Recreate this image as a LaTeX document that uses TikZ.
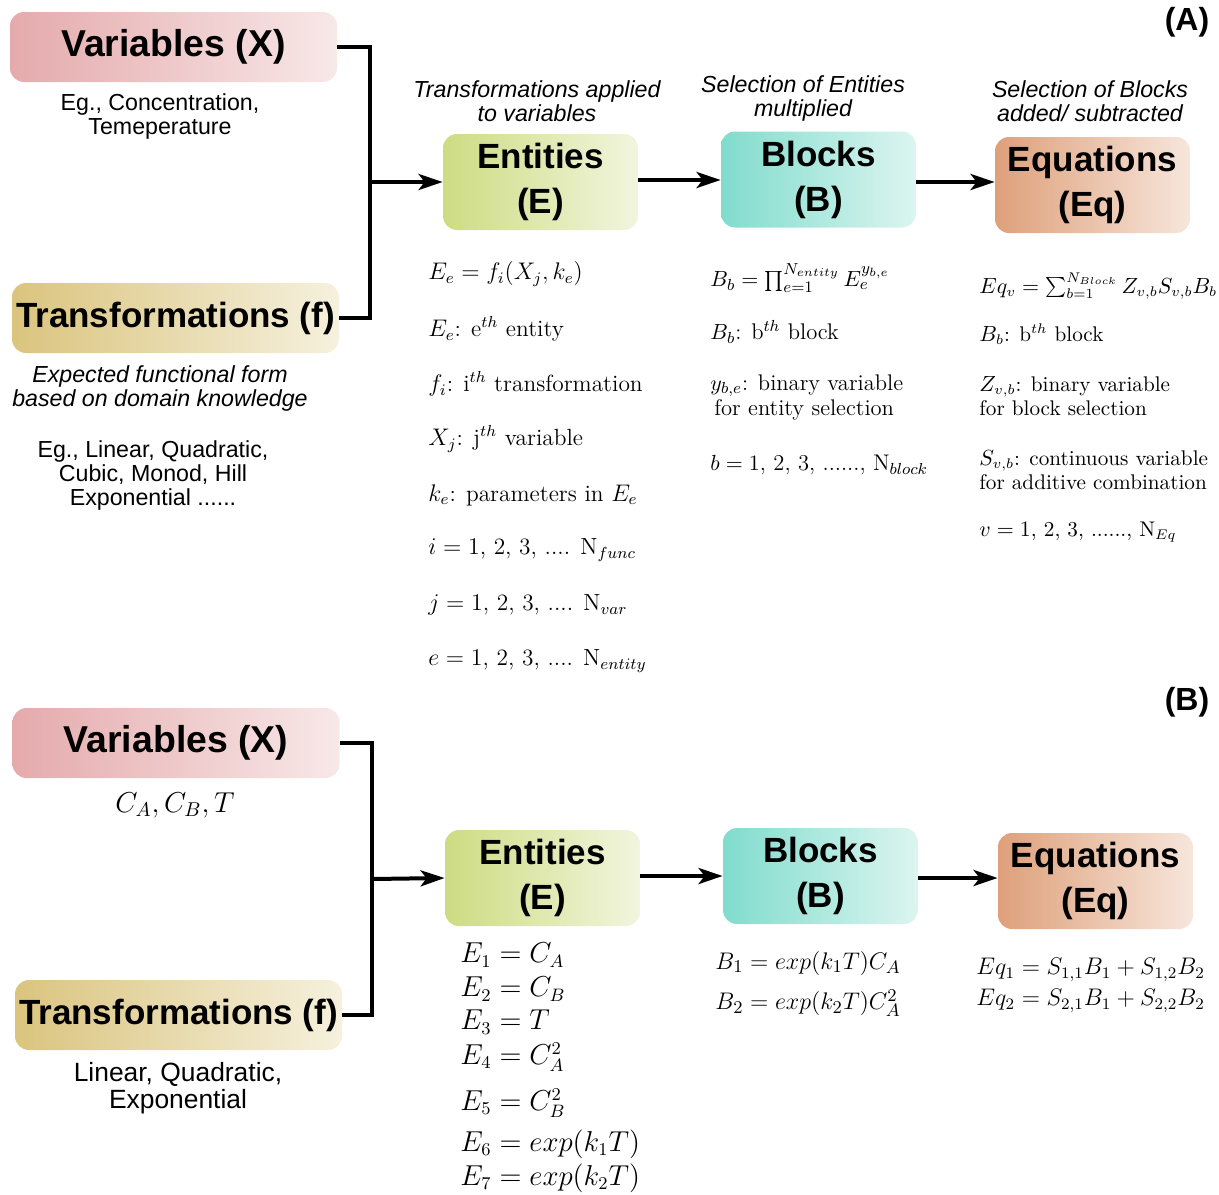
\documentclass[tikz,border=0pt]{standalone}
\usepackage{fontspec}
\setsansfont{Liberation Sans}
\usetikzlibrary{arrows.meta}

\definecolor{varL}{RGB}{229,170,172}
\definecolor{varR}{RGB}{248,232,232}
\definecolor{trfL}{RGB}{218,196,126}
\definecolor{trfR}{RGB}{246,241,222}
\definecolor{entL}{RGB}{205,220,130}
\definecolor{entR}{RGB}{242,245,222}
\definecolor{blkL}{RGB}{128,220,205}
\definecolor{blkR}{RGB}{220,245,240}
\definecolor{eqnL}{RGB}{222,160,122}
\definecolor{eqnR}{RGB}{247,230,220}

\tikzset{
  box/.style={rounded corners=7pt, minimum width=97.5pt, minimum height=48pt,
    align=center, inner sep=0pt,
    font=\sffamily\bfseries\fontsize{17.5}{22.5}\selectfont},
  inbox/.style={box, minimum width=163.5pt, minimum height=35pt},
  grad/.style 2 args={left color=#1, right color=#2},
  conn/.style={line width=2pt},
  arr/.style={conn, -{Stealth[length=12pt,width=8pt,inset=3pt]}},
  note/.style={align=center, inner sep=0pt,
    font=\sffamily\fontsize{11.6}{12}\selectfont},
  hint/.style={note, font=\sffamily\itshape\fontsize{11.6}{12}\selectfont},
  eq/.style={anchor=west, align=left, inner sep=0pt,
    font=\fontsize{11.7}{12.5}\selectfont},
  eqbig/.style={anchor=west, inner sep=0pt, font=\fontsize{13.3}{16}\selectfont},
  tag/.style={inner sep=0pt, font=\sffamily\bfseries\fontsize{16}{18}\selectfont}
}

\begin{document}
\begin{tikzpicture}[x=0.5pt,y=-0.5pt]
  \useasboundingbox (0,0) rectangle (1219,1194);

  % ---------- (A) general framework ----------
  \node[tag] (tagA) at (1187,22) {(A)};

  \node[inbox, grad={varL}{varR}, font=\sffamily\bfseries\fontsize{18.7}{22}\selectfont]
    (varA) at (173.5,47) {Variables (X)};
  \node[note] (varAtxt) at (160,116) {Eg., Concentration,\\Temeperature};

  \node[inbox, grad={trfL}{trfR}] (trfA) at (175.5,318) {Transformations (f)};
  \node[hint] (trfAhint) at (160,388) {Expected functional form\\based on domain knowledge};
  \node[note] (trfAtxt) at (153,475) {Eg., Linear, Quadratic,\\Cubic, Monod, Hill\\Exponential ......};

  \node[box, grad={entL}{entR}] (entA) at (540.5,182) {Entities\\(E)};
  \node[box, grad={blkL}{blkR}] (blkA) at (818.5,179.5) {Blocks\\(B)};
  \node[box, grad={eqnL}{eqnR}] (eqnA) at (1092.5,185) {Equations\\(Eq)};

  \node[hint] (entAhint) at (537,101) {Transformations applied\\to variables};
  \node[hint] (blkAhint) at (803,99) {Selection of Entities\\multiplied};
  \node[hint] (eqnAhint) at (1090,101) {Selection of Blocks\\added/ subtracted};

  % connectors
  \coordinate (jA) at (370,182);
  \draw[conn] (varA.east) -| (jA) |- (trfA.east);
  \draw[arr] (jA) -- (entA.west);
  \draw[arr] (entA.east |- 180,180) -- (blkA.west |- 180,180);
  \draw[arr] (blkA.east |- 182,182) -- (eqnA.west |- 182,182);

  % entity definitions
  \node[eq] (entAdef1) at (428,274) {$E_e = f_i(X_j, k_e)$};
  \node[eq] (entAdef2) at (428,329) {$E_e$: e$^{th}$ entity};
  \node[eq] (entAdef3) at (428,384) {$f_i$: i$^{th}$ transformation};
  \node[eq] (entAdef4) at (428,439) {$X_j$: j$^{th}$ variable};
  \node[eq] (entAdef5) at (428,495) {$k_e$: parameters in $E_e$};
  \node[eq] (entAdef6) at (428,550) {$i = 1$, 2, 3, .... N$_{func}$};
  \node[eq] (entAdef7) at (428,605) {$j = 1$, 2, 3, .... N$_{var}$};
  \node[eq] (entAdef8) at (428,661) {$e = 1$, 2, 3, .... N$_{entity}$};

  % block definitions
  \node[eq, font=\fontsize{11.3}{12.5}\selectfont] (blkAdef1) at (710,278) {$B_b = \prod_{e=1}^{N_{entity}} E_e^{y_{b,e}}$};
  \node[eq, font=\fontsize{11.3}{12.5}\selectfont] (blkAdef2) at (710,332) {$B_b$: b$^{th}$ block};
  \node[eq, font=\fontsize{11.3}{12.5}\selectfont] (blkAdef3) at (710,397) {$y_{b,e}$: binary variable\\\hspace*{2pt}for entity selection};
  \node[eq, font=\fontsize{11.3}{12.5}\selectfont] (blkAdef4) at (710,465) {$b = 1$, 2, 3, ......, N$_{block}$};

  % equation definitions
  \node[eq, font=\fontsize{10.6}{12}\selectfont] (eqnAdef1) at (979,286) {$Eq_v = \sum_{b=1}^{N_{Block}} Z_{v,b}S_{v,b}B_b$};
  \node[eq, font=\fontsize{10.6}{12}\selectfont] (eqnAdef2) at (979,334) {$B_b$: b$^{th}$ block};
  \node[eq, font=\fontsize{10.6}{12}\selectfont] (eqnAdef3) at (979,396) {$Z_{v,b}$: binary variable\\for block selection};
  \node[eq, font=\fontsize{10.6}{12}\selectfont] (eqnAdef4) at (979,470) {$S_{v,b}$: continuous variable\\for additive combination};
  \node[eq, font=\fontsize{10.6}{12}\selectfont] (eqnAdef5) at (979,532) {$v = 1$, 2, 3, ......, N$_{Eq}$};

  % ---------- (B) worked example ----------
  \node[tag] (tagB) at (1187,702) {(B)};

  \node[inbox, grad={varL}{varR}, font=\sffamily\bfseries\fontsize{18.7}{22}\selectfont]
    (varB) at (176,743) {Variables (X)};
  \node[inner sep=0pt, font=\fontsize{14.5}{18}\selectfont] (varBtxt) at (175,805) {$C_A, C_B, T$};

  \node[inbox, grad={trfL}{trfR}] (trfB) at (178.5,1015) {Transformations (f)};
  \node[note, font=\sffamily\fontsize{13.2}{13.5}\selectfont] (trfBtxt) at (178,1088) {Linear, Quadratic,\\Exponential};

  \node[box, grad={entL}{entR}] (entB) at (542.5,878) {Entities\\(E)};
  \node[box, grad={blkL}{blkR}] (blkB) at (820.5,876) {Blocks\\(B)};
  \node[box, grad={eqnL}{eqnR}] (eqnB) at (1095.5,881) {Equations\\(Eq)};

  \coordinate (jB) at (372,879);
  \draw[conn] (varB.east) -| (jB) |- (trfB.east);
  \draw[arr] (jB) -- (entB.west);
  \draw[arr] (entB.east |- 876,876) -- (blkB.west |- 876,876);
  \draw[arr] (blkB.east |- 878,878) -- (eqnB.west |- 878,878);

  % entities of the example
  \node[eqbig] (entB1) at (460,955) {$E_1 = C_A$};
  \node[eqbig] (entB2) at (460,989) {$E_2 = C_B$};
  \node[eqbig] (entB3) at (460,1022) {$E_3 = T$};
  \node[eqbig] (entB4) at (460,1057) {$E_4 = C_A^2$};
  \node[eqbig] (entB5) at (460,1103) {$E_5 = C_B^2$};
  \node[eqbig] (entB6) at (460,1144) {$E_6 = exp(k_1T)$};
  \node[eqbig] (entB7) at (460,1178) {$E_7 = exp(k_2T)$};

  % blocks and equations of the example
  \node[eqbig, font=\fontsize{12.2}{14}\selectfont] (blkB1) at (715,963) {$B_1 = exp(k_1T)C_A$};
  \node[eqbig, font=\fontsize{12.2}{14}\selectfont] (blkB2) at (715,1003) {$B_2 = exp(k_2T)C_A^2$};
  \node[eqbig, font=\fontsize{11.6}{14}\selectfont] (eqnB1) at (976,970) {$Eq_1 = S_{1,1}B_1 + S_{1,2}B_2$};
  \node[eqbig, font=\fontsize{11.6}{14}\selectfont] (eqnB2) at (976,1001) {$Eq_2 = S_{2,1}B_1 + S_{2,2}B_2$};
\end{tikzpicture}
\end{document}
